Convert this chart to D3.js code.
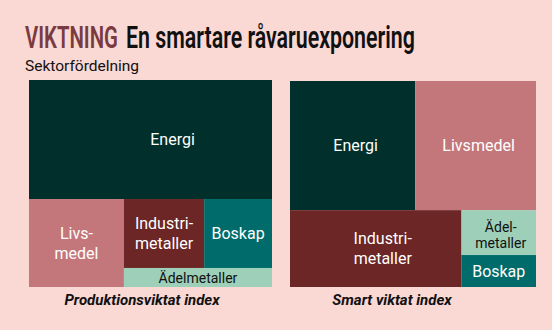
<!DOCTYPE html>
<html>
<head>
<meta charset="utf-8">
<script src="https://cdn.jsdelivr.net/npm/d3@7"></script>
<style>
  html, body { margin: 0; padding: 0; background: #fad8d4; }
  svg { display: block; }
  text { font-family: Roboto, "Noto Sans", sans-serif; }
</style>
</head>
<body>
<svg id="chart" width="552" height="330"></svg>
<script>
// Sector weights (%) in each index
const sectors = ["Energi", "Livsmedel", "Industrimetaller", "Boskap", "Ädelmetaller"];
const produktionsviktat = [57.5, 16.6, 11.0, 9.3, 5.6];
const smartViktat = [31.9, 30.8, 26.0, 4.7, 6.6];

const sectorColors = ["#01302c", "#c4777a", "#6b2625", "#006b6b", "#9dcfb9"];
const labelColors = ["#fff", "#fff", "#fff", "#fff", "#111"];

const titleAccent = "VIKTNING";
const titleMain = "En smartare råvaruexponering";
const subtitle = "Sektorfördelning";
const captions = ["Produktionsviktat index", "Smart viktat index"];

// Label text lines per panel (hyphenated where the box is narrow)
const labelsLeft = {
  "Energi": ["Energi"], "Livsmedel": ["Livs-", "medel"],
  "Industrimetaller": ["Industri-", "metaller"], "Boskap": ["Boskap"],
  "Ädelmetaller": ["Ädelmetaller"]
};
const labelsRight = {
  "Energi": ["Energi"], "Livsmedel": ["Livsmedel"],
  "Industrimetaller": ["Industri-", "metaller"], "Boskap": ["Boskap"],
  "Ädelmetaller": ["Ädel-", "metaller"]
};

const svg = d3.select("#chart");
svg.append("rect").attr("width", 552).attr("height", 330).attr("fill", "#fad8d4");

// Condensed title: scale each run horizontally to its measured span
function condensed(x, y, width, txt, fill) {
  const t = svg.append("text").attr("y", 0)
    .attr("font-size", 31).attr("font-weight", 600).attr("fill", fill).text(txt);
  const natural = t.node().getComputedTextLength();
  t.attr("transform", `translate(${x},${y}) scale(${width / natural},1)`);
}
condensed(25, 48, 93, titleAccent, "#7a3b3f");
condensed(126, 48, 289, titleMain, "#111");

svg.append("text").attr("x", 25).attr("y", 71)
  .attr("font-size", 15.5).attr("fill", "#111")
  .text(subtitle);

const color = d3.scaleOrdinal().domain(sectors).range(sectorColors);
const labelColor = d3.scaleOrdinal().domain(sectors).range(labelColors);

const leaf = (values, i) => ({ name: sectors[i], value: values[i] });

// Nested groupings: even depths stack as rows, odd depths split into columns
function leftTree(v) {
  return { children: [
    leaf(v, 0),
    { children: [
      leaf(v, 1),
      { children: [
        { children: [leaf(v, 2), leaf(v, 3)] },
        leaf(v, 4)
      ]}
    ]}
  ]};
}
function rightTree(v) {
  return { children: [
    { children: [leaf(v, 0), leaf(v, 1)] },
    { children: [
      leaf(v, 2),
      { children: [leaf(v, 4), leaf(v, 3)] }
    ]}
  ]};
}

function rowsThenColumns(node, x0, y0, x1, y1) {
  (node.depth & 1 ? d3.treemapDice : d3.treemapSlice)(node, x0, y0, x1, y1);
}

function drawTreemap(data, x0, y0, w, h, labels, offsets, caption, capX) {
  const root = d3.hierarchy(data).sum(d => d.value || 0);
  d3.treemap().size([w, h]).tile(rowsThenColumns).round(false)(root);
  const g = svg.append("g").attr("transform", `translate(${x0},${y0})`);
  const cells = g.selectAll("g.cell").data(root.leaves()).join("g").attr("class", "cell");
  cells.append("rect")
    .attr("x", d => d.x0).attr("y", d => d.y0)
    .attr("width", d => d.x1 - d.x0).attr("height", d => d.y1 - d.y0)
    .attr("fill", d => color(d.data.name));
  cells.each(function(d) {
    const lines = labels[d.data.name];
    const small = d.data.name === "Ädelmetaller";
    const fs = small ? 14 : 16;
    const lh = small ? 16 : 20;
    const off = offsets[d.data.name] || [0, 0];
    const cx = (d.x0 + d.x1) / 2 + off[0];
    const cy = (d.y0 + d.y1) / 2 + off[1];
    const t = d3.select(this).append("text")
      .attr("text-anchor", "middle")
      .attr("font-size", fs)
      .attr("fill", labelColor(d.data.name));
    lines.forEach((ln, i) => {
      t.append("tspan").attr("x", cx)
        .attr("y", cy + (i - (lines.length - 1) / 2) * lh)
        .attr("dy", "0.36em").text(ln);
    });
  });
  svg.append("text").attr("x", capX).attr("y", 305)
    .attr("text-anchor", "middle").attr("font-size", 15)
    .attr("font-weight", 700).attr("font-style", "italic").attr("fill", "#111")
    .text(caption);
}

drawTreemap(leftTree(produktionsviktat), 29, 80, 243, 207, labelsLeft,
  { "Energi": [22, 0] }, captions[0], 142);
drawTreemap(rightTree(smartViktat), 290, 81, 246, 206, labelsRight,
  { "Energi": [3, 0], "Livsmedel": [3, 0], "Industrimetaller": [7, 0], "Ädelmetaller": [2, 2] },
  captions[1], 392);
</script>
</body>
</html>
